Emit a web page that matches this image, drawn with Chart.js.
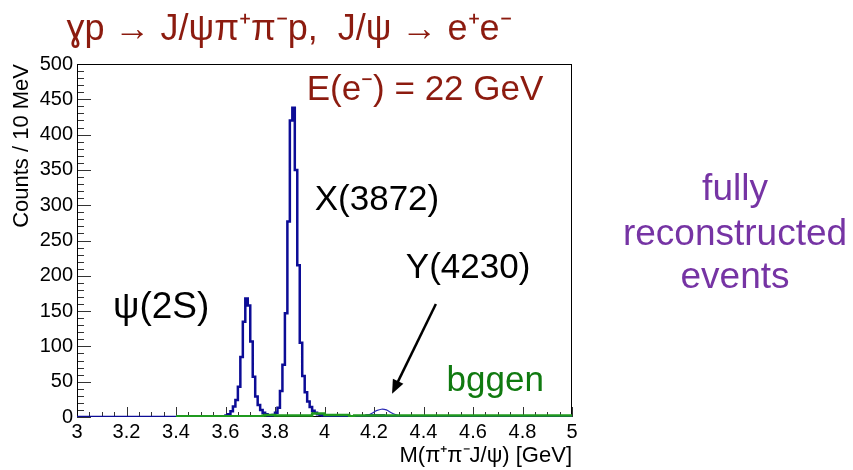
<!DOCTYPE html>
<html>
<head>
<meta charset="utf-8">
<script src="https://cdn.jsdelivr.net/npm/chart.js@4.4.0/dist/chart.umd.min.js"></script>
<style>
  html, body { margin: 0; padding: 0; background: #fff; }
  #wrap { width: 853px; height: 470px; }
</style>
</head>
<body>
<div id="wrap"><canvas id="massPlot" width="853" height="470"></canvas></div>
<script>
// M(pi+ pi- J/psi) spectrum, 10 MeV bins from 3.00 to 5.00 GeV
const histLow = 3.0;
const binWidth = 0.01;

// reconstructed signal, one row = 20 bins = 0.2 GeV
const signalCounts = [
  0, 0, 0, 0, 0, 0, 0, 0, 0, 0, 0, 0, 0, 0, 0, 0, 0, 0, 0, 0,
  0, 0, 0, 0, 0, 0, 0, 0, 0, 0, 0, 0, 0, 0, 0, 0, 0, 0, 0, 0,
  0, 0, 0, 0, 0, 0, 0, 0, 0, 0, 0, 0, 0, 0, 0, 0, 0, 1, 1, 1,
  2, 4, 8, 15, 24, 43, 85, 135, 168, 158, 107, 57, 29, 17, 10, 6, 4, 2, 2, 3,
  6, 13, 37, 74, 147, 277, 420, 438, 350, 215, 105, 58, 35, 22, 14, 9, 6, 4, 3, 2,
  1, 1, 1, 0, 0, 0, 0, 0, 0, 0, 0, 0, 1, 1, 1, 1, 1, 2, 2, 2,
  2, 2, 2, 2, 1, 1, 1, 1, 1, 1, 0, 0, 0, 0, 0, 0, 0, 0, 0, 0,
  0, 0, 0, 0, 1, 1, 0, 0, 0, 0, 0, 0, 0, 0, 0, 0, 0, 0, 0, 0,
  0, 0, 0, 0, 0, 0, 0, 0, 0, 0, 0, 0, 0, 0, 0, 0, 0, 0, 0, 0,
  0, 0, 0, 0, 0, 0, 0, 0, 0, 0, 0, 0, 0, 0, 0, 0, 1, 0, 0, 0
];

// bggen background sample (nothing below 3.4 GeV)
const bggenCounts = [
  null, null, null, null, null, null, null, null, null, null, null, null, null, null, null, null, null, null, null, null,
  null, null, null, null, null, null, null, null, null, null, null, null, null, null, null, null, null, null, null, null,
  1, 1, 1, 1, 1, 1, 1, 1, 1, 1, 1, 1, 1, 1, 1, 1, 1, 1, 1, 1,
  1, 1, 1, 1, 1, 1, 1, 1, 1, 1, 1, 1, 1, 1, 1, 2, 3, 3, 3, 3,
  2, 2, 2, 2, 2, 2, 2, 2, 2, 2, 2, 2, 2, 2, 2, 5, 5, 5, 5, 5,
  3, 3, 3, 3, 3, 3, 3, 3, 3, 3, 1, 1, 2, 2, 2, 2, 2, 2, 2, 2,
  2, 2, 2, 2, 2, 2, 2, 2, 2, 2, 2, 2, 2, 2, 2, 2, 2, 2, 2, 2,
  2, 2, 2, 2, 2, 2, 2, 2, 2, 2, 2, 2, 2, 2, 2, 2, 2, 2, 2, 2,
  2, 2, 2, 2, 2, 2, 2, 2, 2, 2, 2, 2, 2, 2, 2, 2, 2, 2, 2, 2,
  2, 2, 2, 2, 2, 2, 2, 2, 2, 2, 2, 2, 2, 2, 2, 2, 2, 2, 2, 2
];

// Y(4230) component, thin curve
const yStateMass = [4.15, 4.17, 4.19, 4.21, 4.23, 4.25, 4.27, 4.29, 4.31, 4.33];
const yStateCounts = [0, 2, 5, 9, 11, 10, 6, 3, 1, 0];

const yTicks = [0, 50, 100, 150, 200, 250, 300, 350, 400, 450, 500];

const FONT = '"Liberation Sans", Arial, Helvetica, sans-serif';

function histPoints(counts) {
  const pts = counts.map((c, i) => ({ x: histLow + i * binWidth, y: c }));
  pts.push({ x: histLow + counts.length * binWidth, y: counts[counts.length - 1] });
  return pts;
}

function drawText(ctx, str, x, y, size, color, align) {
  ctx.font = size + 'px ' + FONT;
  ctx.fillStyle = color;
  ctx.textAlign = align || 'center';
  ctx.textBaseline = 'middle';
  ctx.fillText(str, x, y);
}

// ROOT-like frame with inner ticks, under the histograms
const rootFrame = {
  id: 'rootFrame',
  beforeDatasetsDraw(chart) {
    const { ctx, chartArea: a, scales: { x, y } } = chart;
    ctx.save();
    ctx.strokeStyle = '#333';
    ctx.lineWidth = 1;
    ctx.beginPath();
    for (let v = 0; v <= 500; v += 10) {
      const py = Math.round(y.getPixelForValue(v)) + 0.5;
      const len = v % 50 === 0 ? 14 : 7;
      ctx.moveTo(a.left, py);
      ctx.lineTo(a.left + len, py);
    }
    for (let k = 0; k <= 40; k++) {
      const px = Math.round(x.getPixelForValue(3 + k * 0.05)) + 0.5;
      const len = k % 4 === 0 ? 10 : 5;
      ctx.moveTo(px, a.bottom);
      ctx.lineTo(px, a.bottom - len);
    }
    ctx.stroke();
    ctx.strokeStyle = '#000';
    ctx.strokeRect(a.left + 0.5, a.top + 0.5, a.width - 1, a.height - 1);
    ctx.restore();
  }
};

// titles, annotations and the arrow, on top
const annotations = {
  id: 'annotations',
  afterDatasetsDraw(chart) {
    const { ctx, chartArea: a, scales: { x, y } } = chart;
    ctx.save();

    drawText(ctx, 'M(\u03c0\u207a\u03c0\u207bJ/\u03c8) [GeV]', a.right, 456, 22, '#000', 'right');
    ctx.save();
    ctx.translate(22, a.top);
    ctx.rotate(-Math.PI / 2);
    drawText(ctx, 'Counts / 10 MeV', 0, 0, 22, '#000', 'right');
    ctx.restore();

    drawText(ctx, '\u0263p \u2192 J/\u03c8\u03c0\u207a\u03c0\u207bp,  J/\u03c8 \u2192 e\u207ae\u207b', 289, 30, 36, '#8c1b0f');
    drawText(ctx, 'fully', 735, 190, 37, '#7634a4');
    drawText(ctx, 'reconstructed', 735, 235, 37, '#7634a4');
    drawText(ctx, 'events', 735, 278, 37, '#7634a4');

    const at = (m, c) => [x.getPixelForValue(m), y.getPixelForValue(c)];
    let p = at(4.406, 463);
    drawText(ctx, 'E(e\u207b) = 22 GeV', p[0], p[1], 35, '#8c1b0f');
    p = at(4.212, 307);
    drawText(ctx, 'X(3872)', p[0], p[1], 35, '#000');
    p = at(4.58, 211);
    drawText(ctx, 'Y(4230)', p[0], p[1], 35, '#000');
    p = at(3.34, 154);
    drawText(ctx, '\u03c8(2S)', p[0], p[1], 37, '#000');
    p = at(4.69, 50);
    drawText(ctx, 'bggen', p[0], p[1], 35, '#107a10');

    // arrow to the Y(4230) bump
    const [x0, y0] = at(4.45, 160);
    const [x1, y1] = at(4.273, 33);
    const ang = Math.atan2(y1 - y0, x1 - x0);
    const head = 15;
    ctx.strokeStyle = '#000';
    ctx.fillStyle = '#000';
    ctx.lineWidth = 2.5;
    ctx.beginPath();
    ctx.moveTo(x0, y0);
    ctx.lineTo(x1 - Math.cos(ang) * head * 0.8, y1 - Math.sin(ang) * head * 0.8);
    ctx.stroke();
    ctx.beginPath();
    ctx.moveTo(x1, y1);
    ctx.lineTo(x1 - head * Math.cos(ang - 0.4), y1 - head * Math.sin(ang - 0.4));
    ctx.lineTo(x1 - head * Math.cos(ang + 0.4), y1 - head * Math.sin(ang + 0.4));
    ctx.closePath();
    ctx.fill();

    ctx.restore();
  }
};

new Chart(document.getElementById('massPlot'), {
  type: 'line',
  data: {
    datasets: [
      {
        label: 'bggen',
        data: histPoints(bggenCounts),
        stepped: true,
        borderColor: '#1f9a1f',
        borderWidth: 2.5,
        pointRadius: 0,
        fill: false,
        spanGaps: false,
        order: 0
      },
      {
        label: 'signal',
        data: histPoints(signalCounts),
        stepped: true,
        borderColor: '#0c0c96',
        borderWidth: 2.5,
        pointRadius: 0,
        fill: false,
        order: 1
      },
      {
        label: 'Y(4230)',
        data: yStateMass.map((m, i) => ({ x: m, y: yStateCounts[i] })),
        borderColor: '#2a2ab4',
        borderWidth: 1.2,
        tension: 0.4,
        pointRadius: 0,
        fill: false,
        order: 2
      }
    ]
  },
  options: {
    responsive: false,
    animation: false,
    devicePixelRatio: 1,
    layout: { padding: { left: 0, right: 281, top: 64, bottom: 0 } },
    plugins: {
      legend: { display: false },
      tooltip: { enabled: false }
    },
    scales: {
      x: {
        type: 'linear',
        min: 3,
        max: 5,
        grid: { display: false, drawTicks: false },
        border: { display: false },
        ticks: {
          stepSize: 0.2,
          padding: 3,
          color: '#000',
          font: { family: FONT, size: 20 },
          maxRotation: 0,
          autoSkip: false,
          callback: v => String(Number(v.toFixed(1)))
        },
        afterFit: s => { s.height = 53; }
      },
      y: {
        type: 'linear',
        min: 0,
        max: 500,
        grid: { display: false, drawTicks: false },
        border: { display: false },
        afterBuildTicks: s => { s.ticks = yTicks.map(v => ({ value: v })); },
        ticks: {
          padding: 4,
          color: '#000',
          font: { family: FONT, size: 20 }
        },
        afterFit: s => { s.width = 77; }
      }
    }
  },
  plugins: [rootFrame, annotations]
});
</script>
</body>
</html>
